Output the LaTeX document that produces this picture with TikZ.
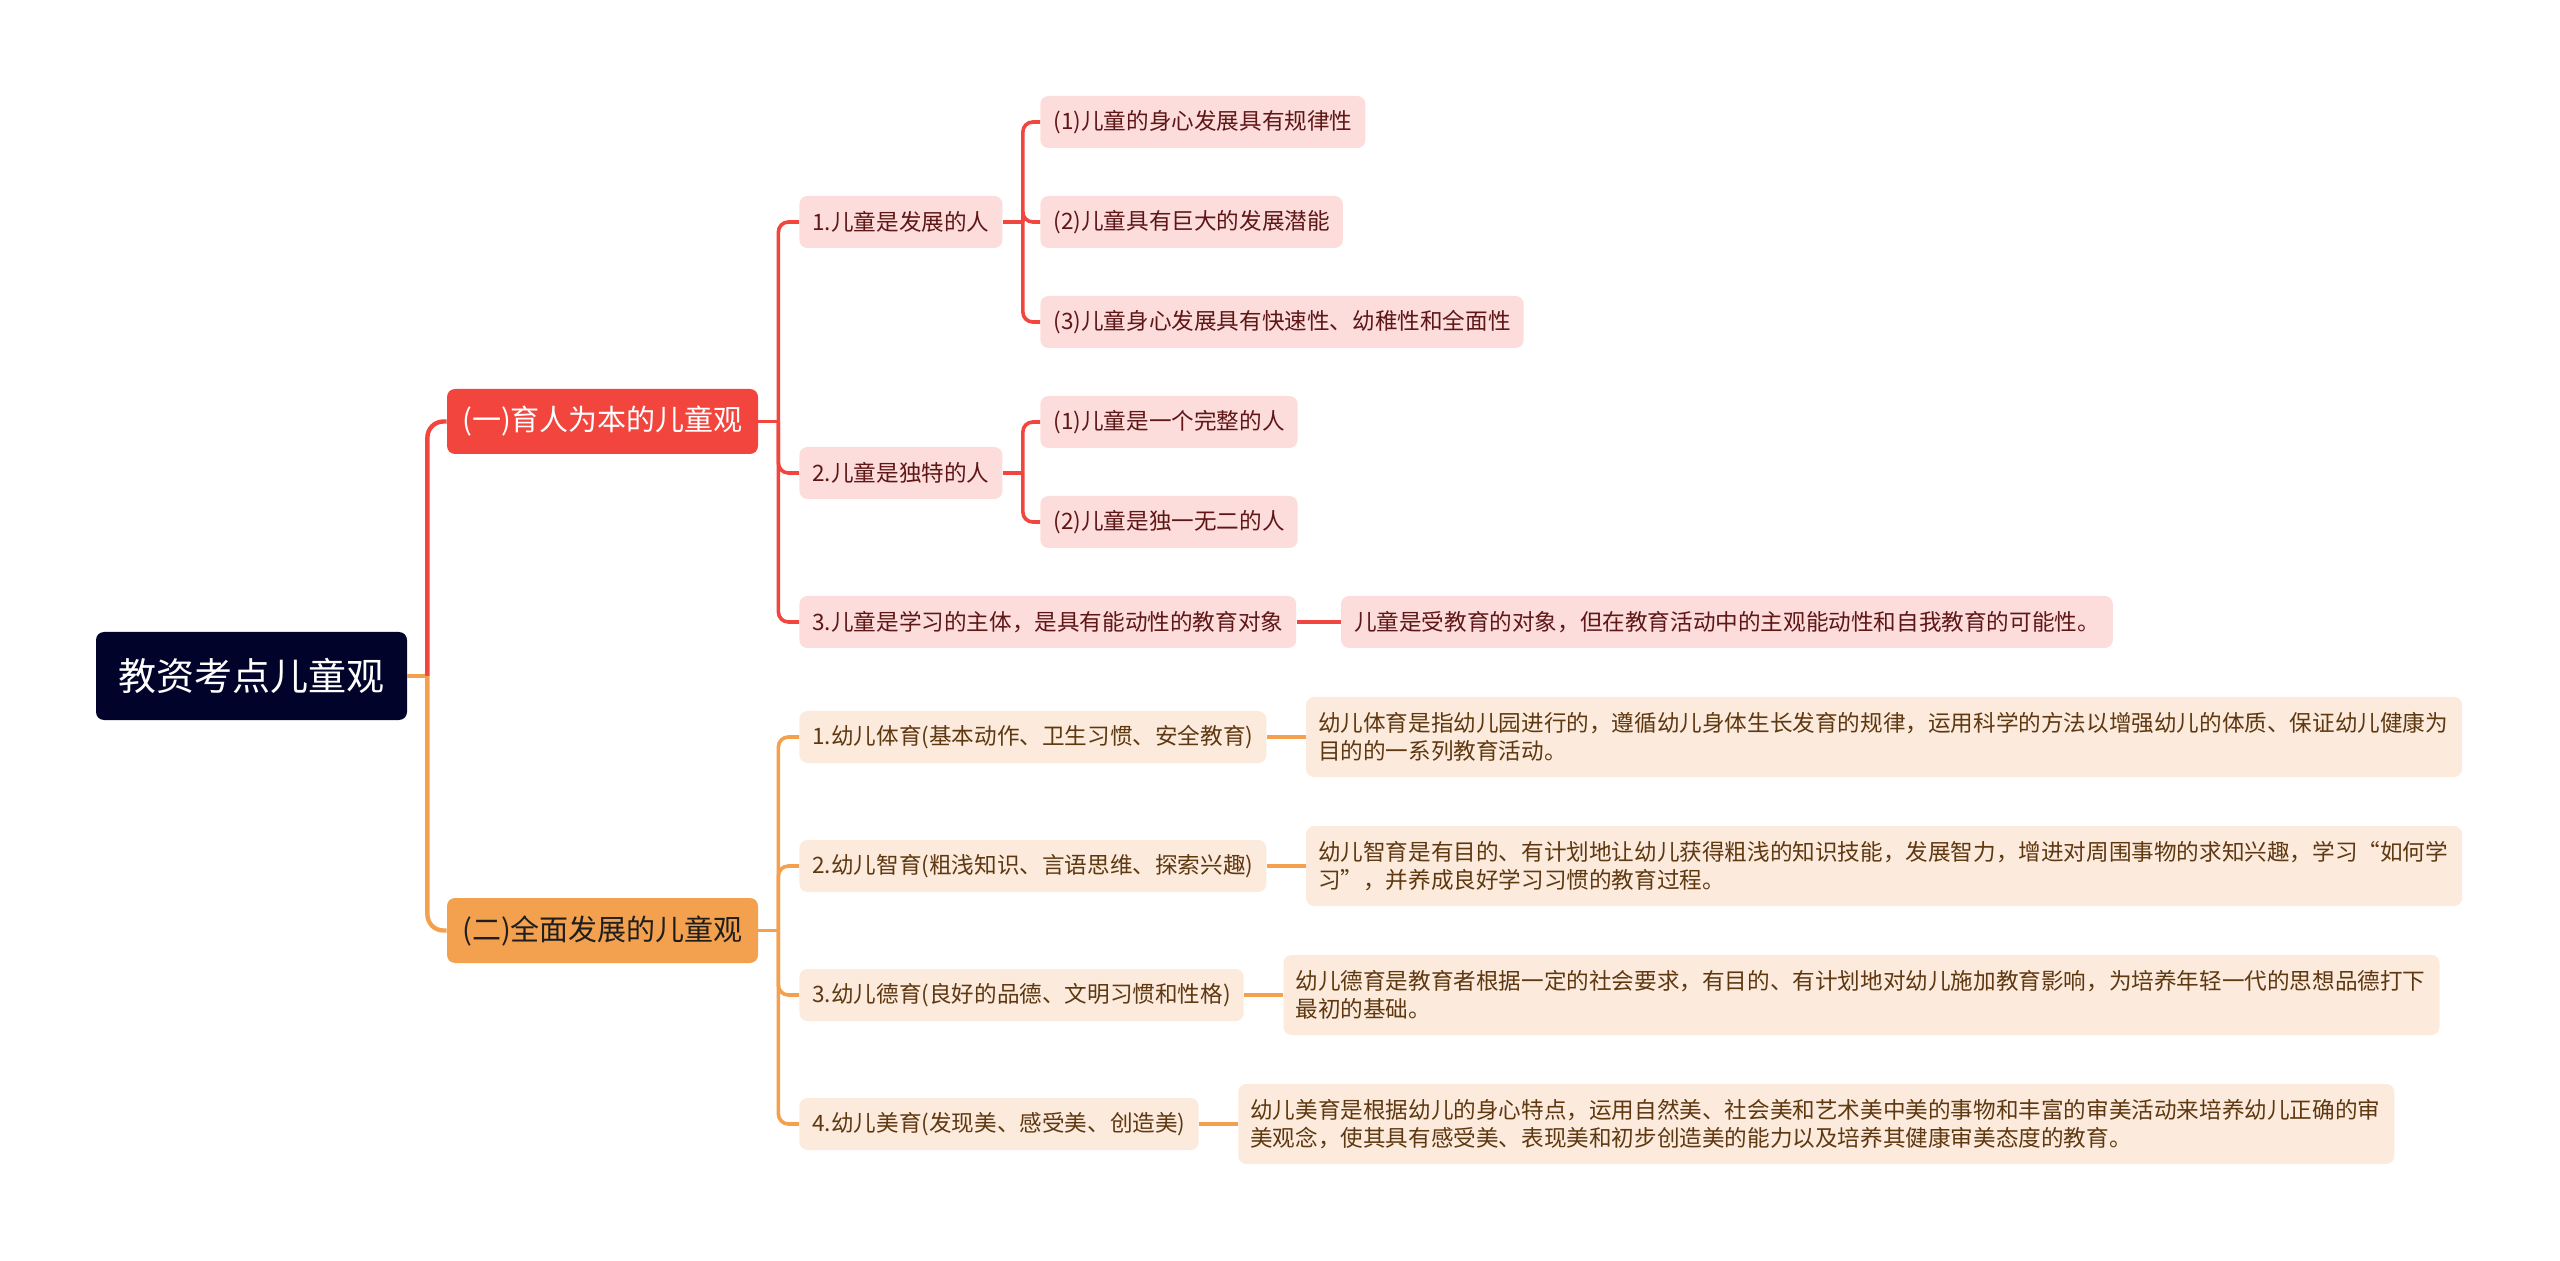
\documentclass[tikz,border=0pt]{standalone}
\usepackage{fontspec}
\setmainfont{Noto Sans CJK SC}
\usepackage{xcolor}
\usepackage{tikz}
\usetikzlibrary{positioning}
\definecolor{bleuNuit}{HTML}{02032A}
\definecolor{rougeVif}{HTML}{F1453D}
\definecolor{orangeVif}{HTML}{F3A14E}
\definecolor{rosePale}{HTML}{FCDDDC}
\definecolor{pechePale}{HTML}{FCEBDD}
\definecolor{bordeauxFonce}{HTML}{5E1616}
\definecolor{brunFonce}{HTML}{5E3810}
\definecolor{grisFonce}{HTML}{1E1E1E}

\tikzset{
  racine/.style={fill=bleuNuit, text=white, rounded corners=4pt, minimum width=155.5pt,
                 minimum height=44pt, font=\fontsize{19pt}{23pt}\selectfont},
  branche/.style={rounded corners=4pt, minimum width=155.5pt, minimum height=32.5pt,
                  font=\fontsize{14.5pt}{17pt}\selectfont},
  feuille/.style={rounded corners=4pt, anchor=west, minimum height=26pt, inner xsep=6.5pt,
                  font=\fontsize{11.3pt}{14pt}\selectfont},
  feuilleRouge/.style={feuille, fill=rosePale, text=bordeauxFonce},
  feuilleOrange/.style={feuille, fill=pechePale, text=brunFonce},
  texteLong/.style={feuilleOrange, text width=566pt, align=left, minimum height=40pt, inner xsep=6pt},
  lienRouge/.style={rougeVif, line width=1.8pt, rounded corners=5pt},
  lienOrange/.style={orangeVif, line width=1.8pt, rounded corners=5pt}
}

\begin{document}
\begin{tikzpicture}[x=0.5pt, y=-0.5pt, node distance=19.5pt]
\useasboundingbox (0,0) rectangle (2560,1261);

\node[racine] (root) at (251.5,676) {教资考点儿童观};
\node[branche, fill=rougeVif, text=white] (b1) at (602.5,421.5) {(一)育人为本的儿童观};
\node[branche, fill=orangeVif, text=grisFonce] (b2) at (602.5,930.5) {(二)全面发展的儿童观};

\node[feuilleRouge] (r1) at (799,222) {1.儿童是发展的人};
\node[feuilleRouge] (r2) at (799,473) {2.儿童是独特的人};
\node[feuilleRouge] (r3) at (799,622) {3.儿童是学习的主体，是具有能动性的教育对象};
\node[feuilleRouge] (r11) at (1040,122) {(1)儿童的身心发展具有规律性};
\node[feuilleRouge] (r12) at (1040,222) {(2)儿童具有巨大的发展潜能};
\node[feuilleRouge] (r13) at (1040,322) {(3)儿童身心发展具有快速性、幼稚性和全面性};
\node[feuilleRouge] (r21) at (1040,422) {(1)儿童是一个完整的人};
\node[feuilleRouge] (r22) at (1040,522) {(2)儿童是独一无二的人};
\node[feuilleRouge, right=22pt of r3] (r31) {儿童是受教育的对象，但在教育活动中的主观能动性和自我教育的可能性。};

\node[feuilleOrange] (o1) at (799,737) {1.幼儿体育(基本动作、卫生习惯、安全教育)};
\node[feuilleOrange] (o2) at (799,866) {2.幼儿智育(粗浅知识、言语思维、探索兴趣)};
\node[feuilleOrange] (o3) at (799,995) {3.幼儿德育(良好的品德、文明习惯和性格)};
\node[feuilleOrange] (o4) at (799,1124) {4.幼儿美育(发现美、感受美、创造美)};
\node[texteLong, right=of o1] (d1) {幼儿体育是指幼儿园进行的，遵循幼儿身体生长发育的规律，运用科学的方法以增强幼儿的体质、保证幼儿健康为\\目的的一系列教育活动。};
\node[texteLong, right=of o2] (d2) {幼儿智育是有目的、有计划地让幼儿获得粗浅的知识技能，发展智力，增进对周围事物的求知兴趣，学习“如何学\\习”，并养成良好学习习惯的教育过程。};
\node[texteLong, right=of o3] (d3) {幼儿德育是教育者根据一定的社会要求，有目的、有计划地对幼儿施加教育影响，为培养年轻一代的思想品德打下\\最初的基础。};
\node[texteLong, right=of o4] (d4) {幼儿美育是根据幼儿的身心特点，运用自然美、社会美和艺术美中美的事物和丰富的审美活动来培养幼儿正确的审\\美观念，使其具有感受美、表现美和初步创造美的能力以及培养其健康审美态度的教育。};

\coordinate (j0) at ([xshift=10pt]root.east);
\coordinate (j1) at ([xshift=10pt]b1.east);
\coordinate (j2) at ([xshift=10pt]b2.east);
\coordinate (j11) at ([xshift=10pt]r1.east);
\coordinate (j21) at ([xshift=10pt]r2.east);

\draw[orangeVif, line width=2.2pt] (root.east) -- (j0);
\draw[lienRouge, line width=2.2pt, rounded corners=8pt] (j0) |- (b1.west);
\draw[lienOrange, line width=2.2pt, rounded corners=8pt] (j0) |- (b2.west);

\draw[lienRouge] (b1.east) -- (j1);
\foreach \n in {r1,r2,r3} \draw[lienRouge] (j1) |- (\n.west);
\draw[lienRouge] (r1.east) -- (j11);
\foreach \n in {r11,r12,r13} \draw[lienRouge] (j11) |- (\n.west);
\draw[lienRouge] (r2.east) -- (j21);
\foreach \n in {r21,r22} \draw[lienRouge] (j21) |- (\n.west);
\draw[lienRouge] (r3.east) -- (r31.west);

\draw[lienOrange] (b2.east) -- (j2);
\foreach \n in {o1,o2,o3,o4} \draw[lienOrange] (j2) |- (\n.west);
\foreach \n/\d in {o1/d1,o2/d2,o3/d3,o4/d4} \draw[lienOrange] (\n.east) -- (\d.west);

\end{tikzpicture}
\end{document}
